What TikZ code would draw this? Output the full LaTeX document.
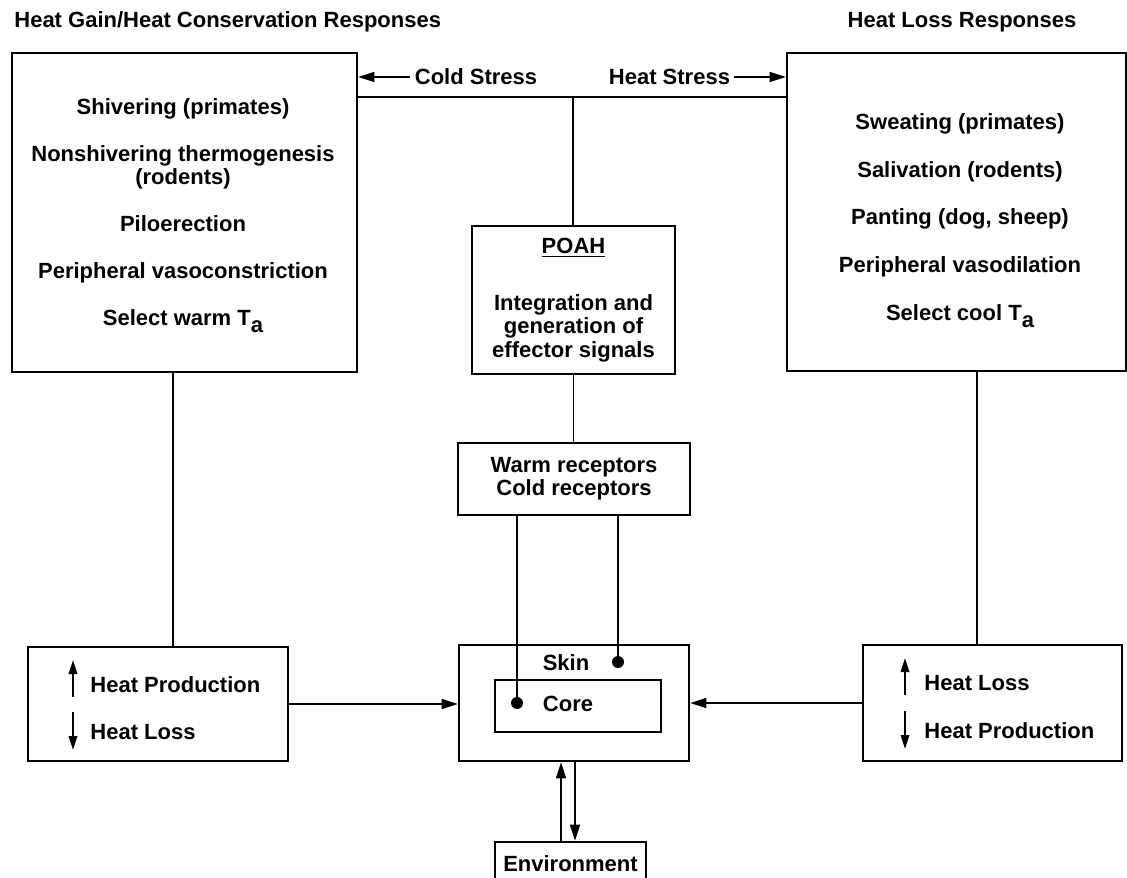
\documentclass[tikz,border=0pt]{standalone}
\usepackage{fontspec}
\setmainfont{Liberation Sans}
\usetikzlibrary{arrows.meta}

\newcommand{\Tamb}{T\raisebox{-3.5pt}{a}}

\begin{document}
\begin{tikzpicture}[
    x=0.5pt, y=-0.5pt,
    font=\fontsize{11}{11.6}\selectfont\bfseries,
    block/.style={rectangle, draw, line width=1.3pt, align=center, inner sep=0pt},
    tag/.style={inner sep=2pt, align=center},
    conn/.style={line width=0.8pt},
    arrow/.style={-{Triangle[length=8pt,width=5pt]}, line width=0.8pt},
    updown/.style={-{Triangle[length=7pt,width=4.2pt]}, line width=1pt},
    dot/.style={circle, fill, inner sep=0pt, minimum size=6pt}
]
\useasboundingbox (0,0) rectangle (1127,877);

\node[tag, anchor=west] (gaintitle) at (10,22) {Heat Gain/Heat Conservation Responses};
\node[tag] (losstitle) at (962,22) {Heat Loss Responses};

\node[block, minimum width=172.5pt, minimum height=159.5pt] (gain) at (184.5,212.5) {};
\node[tag] (gainlist) at (183,215.5) {Shivering (primates)\\[12pt] Nonshivering thermogenesis\\ (rodents)\\[12pt] Piloerection\\[11.5pt] Peripheral vasoconstriction\\[12pt] Select warm \Tamb};
\node[block, minimum width=169.5pt, minimum height=159pt] (loss) at (956.5,212) {};
\node[tag] (losslist) at (960,220.5) {Sweating (primates)\\[12.3pt] Salivation (rodents)\\[12.3pt] Panting (dog, sheep)\\[12.3pt] Peripheral vasodilation\\[12.3pt] Select cool \Tamb};

\node[tag] (cold) at (476,77) {Cold Stress};
\node[tag] (heat) at (669.5,77) {Heat Stress};
\coordinate (junc) at (573,97);

\node[block, minimum width=101.5pt, minimum height=74pt] (poah) at (573.5,300) {\underline{POAH}\\[17pt] Integration and\\ generation of\\ effector signals};
\node[block, minimum width=116pt, minimum height=36pt] (recep) at (574,479) {Warm receptors\\ Cold receptors};

\node[block, minimum width=115pt, minimum height=58pt] (skin) at (574,703) {};
\node[block, minimum width=83pt, minimum height=26pt] (core) at (578,706) {};
\node[tag] (skinname) at (566,663) {Skin};
\node[tag] (corename) at (568,704) {Core};
\node[dot] (skindot) at (618,662) {};
\node[dot] (coredot) at (517,703) {};

\node[block, minimum width=75.5pt, minimum height=22pt] (env) at (570.5,864) {Environment};
\coordinate (envup) at (561,0);
\coordinate (envdown) at (575,0);

\node[block, minimum width=130pt, minimum height=57pt] (gainfx) at (158,704) {};
\node[tag, anchor=west] (gainprod) at (86,685) {Heat Production};
\node[tag, anchor=west] (gainloss) at (86,732) {Heat Loss};
\node[block, minimum width=129.5pt, minimum height=58pt] (lossfx) at (992.5,703) {};
\node[tag, anchor=west] (lossloss) at (920,683) {Heat Loss};
\node[tag, anchor=west] (lossprod) at (920,731) {Heat Production};
\coordinate (gaintap) at (173,0);
\coordinate (losstap) at (977,0);

\draw[arrow] (cold.west) -- (cold.west -| gain.east);
\draw[arrow] (heat.east) -- (heat.east -| loss.west);
\draw[conn] (gain.east |- junc) -- (loss.west |- junc);
\draw[conn] (junc) -- (junc |- poah.north);
\draw[conn] (poah.south) -- (poah.south |- recep.north);
\draw[conn] (recep.south -| coredot) -- (coredot);
\draw[conn] (recep.south -| skindot) -- (skindot);

\draw[conn] (gain.south -| gaintap) -- (gainfx.north -| gaintap);
\draw[conn] (loss.south -| losstap) -- (lossfx.north -| losstap);
\draw[arrow] (gainfx.east) -- (gainfx.east -| skin.west);
\draw[arrow] (lossfx.west) -- (lossfx.west -| skin.east);
\draw[arrow] (env.north -| envup) -- (skin.south -| envup);
\draw[arrow] (skin.south -| envdown) -- (env.north -| envdown);

\draw[updown] ([shift={(-13,12)}]gainprod.west) -- ([shift={(-13,-25)}]gainprod.west);
\draw[updown] ([shift={(-13,-20)}]gainloss.west) -- ([shift={(-13,18)}]gainloss.west);
\draw[updown] ([shift={(-15,12)}]lossloss.west) -- ([shift={(-15,-25)}]lossloss.west);
\draw[updown] ([shift={(-15,-20)}]lossprod.west) -- ([shift={(-15,18)}]lossprod.west);
\end{tikzpicture}
\end{document}
